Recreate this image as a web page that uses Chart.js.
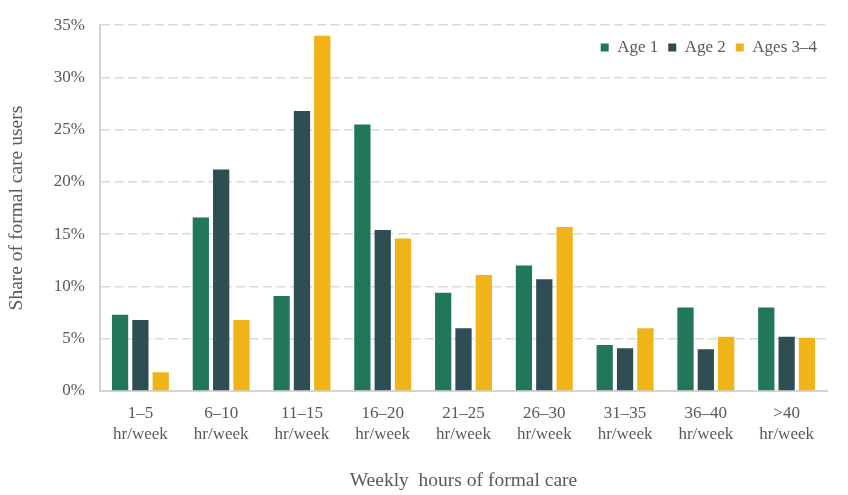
<!DOCTYPE html>
<html>
<head>
<meta charset="utf-8">
<script src="https://cdn.jsdelivr.net/npm/chart.js@4/dist/chart.umd.min.js"></script>
<style>
  html, body { margin: 0; padding: 0; background: #ffffff; }
  #wrap { width: 848px; height: 495px; position: relative; }
</style>
</head>
<body>
<div id="wrap"><canvas id="c" width="848" height="495"></canvas></div>
<script>
// ---- data ----
const categories = [
  ['1–5', 'hr/week'], ['6–10', 'hr/week'], ['11–15', 'hr/week'],
  ['16–20', 'hr/week'], ['21–25', 'hr/week'], ['26–30', 'hr/week'],
  ['31–35', 'hr/week'], ['36–40', 'hr/week'], ['>40', 'hr/week']
];
const seriesNames = ['Age 1', 'Age 2', 'Ages 3–4'];
const age1 = [7.3, 16.6, 9.1, 25.5, 9.4, 12.0, 4.4, 8.0, 8.0];
const age2 = [6.8, 21.2, 26.8, 15.4, 6.0, 10.7, 4.1, 4.0, 5.2];
const ages34 = [1.8, 6.8, 34.0, 14.6, 11.1, 15.7, 6.0, 5.2, 5.1];
const yTickValues = [0, 5, 10, 15, 20, 25, 30, 35];
const xTitle = 'Weekly  hours of formal care';
const yTitle = 'Share of formal care users';

// ---- styles ----
const colors = ['#22775A', '#2F4E54', '#F0B419'];
const textColor = '#595959';
const fontFamily = "'Liberation Serif', 'Times New Roman', serif";

// Legend drawn inside the plot area (its height removed from the layout)
const overlayLegend = {
  id: 'overlayLegend',
  afterInit(chart) {
    const lg = chart.legend;
    if (lg && !lg._overlayPatched) {
      const orig = lg.fit;
      lg.fit = function () { orig.call(this); this.height = 0; };
      lg._overlayPatched = true;
    }
  },
  afterLayout(chart) {
    const lg = chart.legend;
    if (lg) { lg.top = 29; lg.bottom = 62; }
  }
};

const seriesData = [age1, age2, ages34];
new Chart(document.getElementById('c'), {
  type: 'bar',
  data: {
    labels: categories,
    datasets: seriesNames.map((n, i) => ({
      label: n,
      data: seriesData[i],
      backgroundColor: colors[i],
      borderWidth: 0,
      categoryPercentage: 0.755,
      barPercentage: 0.8
    }))
  },
  plugins: [overlayLegend],
  options: {
    responsive: false,
    animation: false,
    devicePixelRatio: 1,
    layout: { padding: { left: 0, right: 21, top: 22, bottom: 0 } },
    plugins: {
      tooltip: { enabled: false },
      legend: {
        position: 'top',
        align: 'end',
        labels: {
          boxWidth: 8,
          boxHeight: 8,
          padding: 10,
          color: textColor,
          font: { family: fontFamily, size: 17 }
        }
      }
    },
    scales: {
      x: {
        grid: { display: false, drawTicks: false },
        border: { display: true, color: '#d4d4d4', width: 2 },
        ticks: {
          color: textColor,
          font: { family: fontFamily, size: 17, lineHeight: 1.18 },
          padding: 13,
          maxRotation: 0,
          autoSkip: false
        },
        title: {
          display: true,
          text: xTitle,
          color: textColor,
          font: { family: fontFamily, size: 19.5 },
          padding: { top: 4, bottom: 2 }
        },
        afterFit(scale) { scale.height = 104; }
      },
      y: {
        min: 0,
        max: 35,
        afterBuildTicks(scale) { scale.ticks = yTickValues.map(v => ({ value: v })); },
        grid: {
          color: '#d9d9d9',
          lineWidth: 1.5,
          drawTicks: false
        },
        border: { display: true, color: '#d4d4d4', width: 2, dash: [9, 4.5], dashOffset: 0 },
        ticks: {
          color: textColor,
          font: { family: fontFamily, size: 17 },
          padding: 15,
          callback: v => v + '%'
        },
        title: {
          display: true,
          text: yTitle,
          color: textColor,
          font: { family: fontFamily, size: 19.5 },
          padding: { top: 5, bottom: 4 }
        },
        afterFit(scale) { scale.width = 100; }
      }
    }
  }
});
</script>
</body>
</html>
